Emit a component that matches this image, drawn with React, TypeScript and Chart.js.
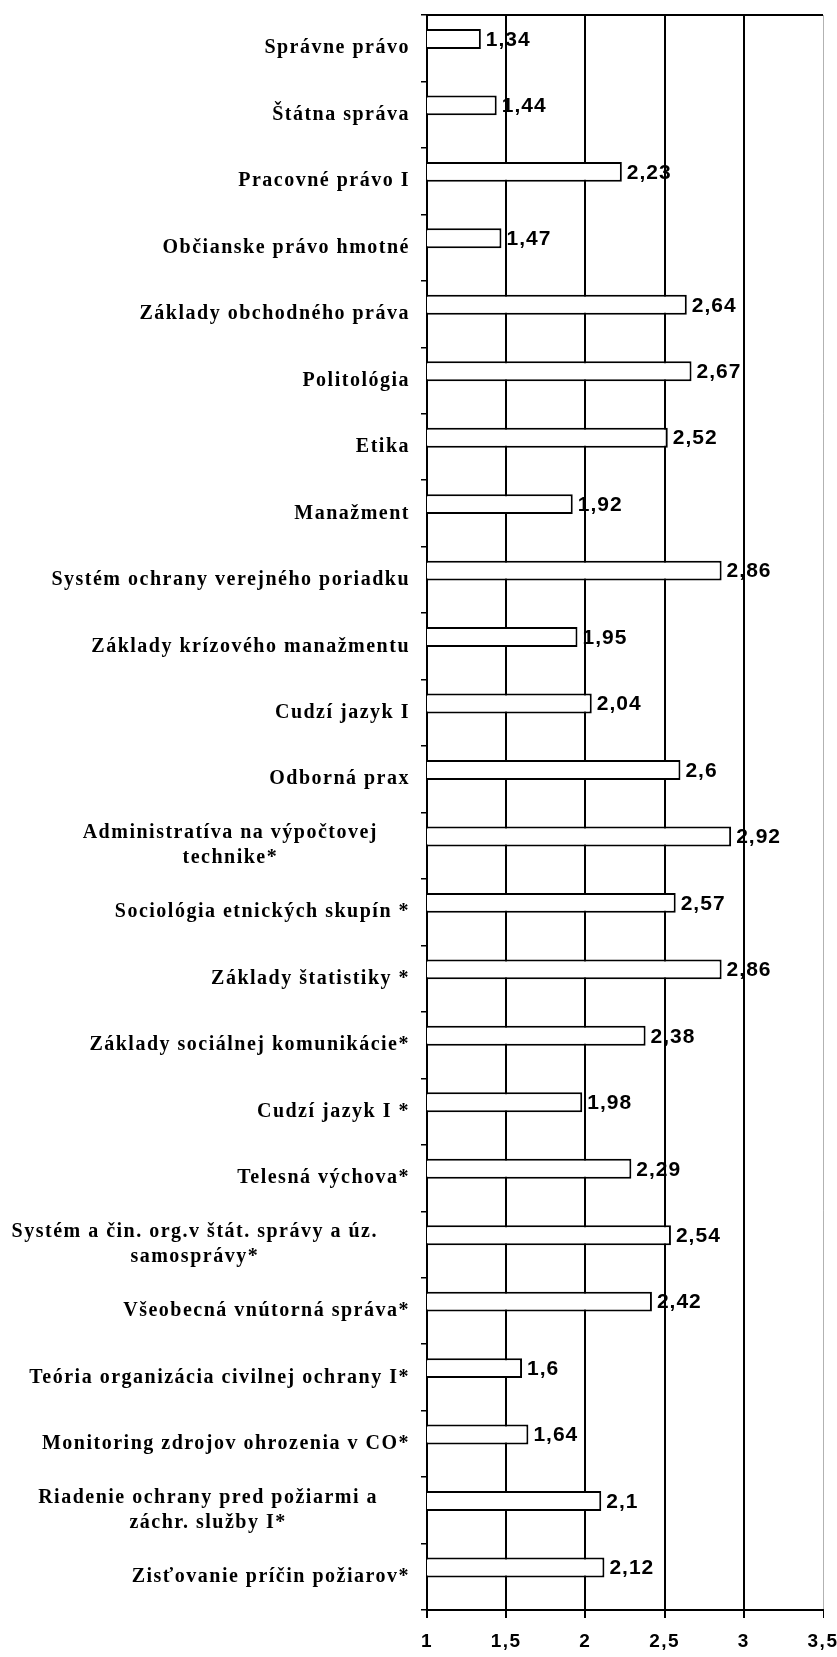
import React, { useEffect, useRef } from "react";
import { Chart, registerables } from "chart.js";

Chart.register(...registerables);

const categories: (string | string[])[] = [
  "Správne právo",
  "Štátna správa",
  "Pracovné právo I",
  "Občianske právo hmotné",
  "Základy obchodného práva",
  "Politológia",
  "Etika",
  "Manažment",
  "Systém ochrany verejného poriadku",
  "Základy krízového manažmentu",
  "Cudzí jazyk I",
  "Odborná prax",
  ["Administratíva na výpočtovej", "technike*"],
  "Sociológia etnických skupín *",
  "Základy štatistiky *",
  "Základy sociálnej komunikácie*",
  "Cudzí jazyk I *",
  "Telesná výchova*",
  ["Systém a čin. org.v štát. správy a úz.", "samosprávy*"],
  "Všeobecná vnútorná správa*",
  "Teória organizácia civilnej ochrany I*",
  "Monitoring zdrojov ohrozenia v CO*",
  ["Riadenie ochrany pred požiarmi a", "záchr. služby I*"],
  "Zisťovanie príčin požiarov*",
];

const values: number[] = [
  1.34, 1.44, 2.23, 1.47, 2.64, 2.67, 2.52, 1.92, 2.86, 1.95, 2.04, 2.6,
  2.92, 2.57, 2.86, 2.38, 1.98, 2.29, 2.54, 2.42, 1.6, 1.64, 2.1, 2.12,
];

const placeholder: (number | null)[] = values.map(() => null);

const xMin = 1;
const xMax = 3.5;
const xStep = 0.5;

const fmt = (v: number) => String(v).replace(".", ",");

const LABEL_FONT = "bold 20px 'Liberation Serif', 'Times New Roman', serif";

const spacing = {
  id: "spacing",
  beforeUpdate(chart: any) {
    chart.ctx.letterSpacing = "1.5px";
  },
  beforeDraw(chart: any) {
    chart.ctx.letterSpacing = "1.5px";
  },
};

const categoryLabels = {
  id: "categoryLabels",
  afterDraw(chart: any) {
    const ctx = chart.ctx;
    const yScale = chart.scales.y;
    const rightEdge = yScale.right - 17;
    const lineH = 25;
    ctx.save();
    ctx.letterSpacing = "1.5px";
    ctx.font = LABEL_FONT;
    ctx.fillStyle = "#000";
    ctx.textBaseline = "middle";
    categories.forEach((label, i) => {
      const y = yScale.getPixelForTick(i);
      if (Array.isArray(label)) {
        const maxW = Math.max(...label.map((l) => ctx.measureText(l).width));
        const cx = rightEdge - 32 - maxW / 2;
        ctx.textAlign = "center";
        const y0 = y - ((label.length - 1) * lineH) / 2;
        label.forEach((l, k) => ctx.fillText(l, cx, y0 + k * lineH));
      } else {
        ctx.textAlign = "right";
        ctx.fillText(label, rightEdge, y);
      }
    });
    ctx.restore();
  },
};

const valueLabels = {
  id: "valueLabels",
  afterDatasetsDraw(chart: any) {
    const ctx = chart.ctx;
    const meta = chart.getDatasetMeta(0);
    ctx.save();
    ctx.letterSpacing = "1px";
    ctx.fillStyle = "#000";
    ctx.font = "bold 21px 'Liberation Sans', Arial, sans-serif";
    ctx.textAlign = "left";
    ctx.textBaseline = "middle";
    meta.data.forEach((bar: any, i: number) => {
      ctx.fillText(fmt(values[i]), bar.x + 5, bar.y + 1);
    });
    ctx.restore();
  },
};

const topBorder = {
  id: "topBorder",
  afterDraw(chart: any) {
    const { ctx, chartArea } = chart;
    ctx.save();
    ctx.strokeStyle = "#000";
    ctx.lineWidth = 2;
    ctx.beginPath();
    ctx.moveTo(chartArea.left, chartArea.top);
    ctx.lineTo(chartArea.right, chartArea.top);
    ctx.stroke();
    ctx.restore();
  },
};

export default function App() {
  const ref = useRef<HTMLCanvasElement>(null);

  useEffect(() => {
    document.body.style.margin = "0";
    const chart = new Chart(ref.current!, {
      type: "bar",
      data: {
        labels: categories,
        datasets: [
          {
            data: values,
            backgroundColor: "#ffffff",
            borderColor: "#000000",
            borderWidth: 2,
            borderSkipped: false,
            categoryPercentage: 0.56,
            barPercentage: 1.07,
          },
          {
            data: placeholder,
            backgroundColor: "#ffffff",
            borderColor: "#000000",
            borderWidth: 0,
            categoryPercentage: 0.56,
            barPercentage: 1.07,
          },
        ],
      },
      options: {
        indexAxis: "y",
        animation: false,
        responsive: false,
        maintainAspectRatio: false,
        layout: { padding: { left: 0, right: 14, top: 15, bottom: 0 } },
        plugins: {
          legend: { display: false },
          tooltip: { enabled: false },
        },
        scales: {
          x: {
            min: xMin,
            max: xMax,
            position: "bottom",
            afterFit: (s: any) => {
              s.height = 47;
              s.paddingLeft = 0;
              s.paddingRight = 0;
            },
            border: { display: true, color: "#000", width: 2 },
            grid: {
              color: (c: any) =>
                c.tick && c.tick.value === xMax ? "rgba(0,0,0,0.3)" : "#000",
              lineWidth: (c: any) =>
                c.tick && c.tick.value === xMax ? 1 : 2,
              tickLength: 8,
              tickColor: "#000",
            },
            ticks: {
              stepSize: xStep,
              color: "#000",
              padding: 12,
              font: {
                family: "'Liberation Sans', Arial, sans-serif",
                size: 19,
                weight: "bold",
              },
              callback: (v: any) => fmt(Number(v)),
            },
          },
          y: {
            afterFit: (s: any) => {
              s.width = 427;
              s.paddingTop = 0;
              s.paddingBottom = 0;
            },
            border: { display: true, color: "#000", width: 2 },
            grid: {
              offset: true,
              drawOnChartArea: false,
              drawTicks: true,
              tickLength: 6,
              color: "#000",
              lineWidth: 1.5,
            },
            ticks: {
              display: false,
              autoSkip: false,
            },
          },
        },
      },
      plugins: [spacing, valueLabels, categoryLabels, topBorder],
    } as any);
    return () => chart.destroy();
  }, []);

  return (
    <div style={{ width: 837, height: 1657, overflow: "hidden" }}>
      <canvas ref={ref} width={837} height={1657} style={{ display: "block" }} />
    </div>
  );
}
